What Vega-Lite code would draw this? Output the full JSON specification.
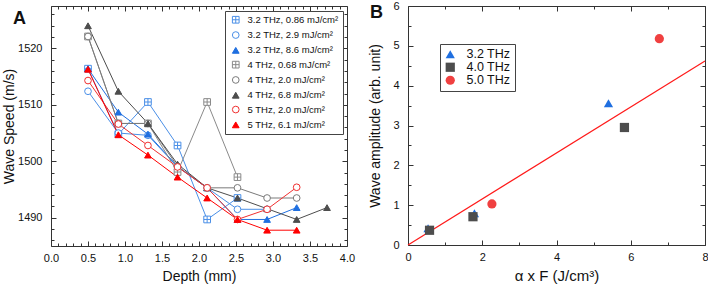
{
  "$schema": "https://vega.github.io/schema/vega-lite/v6.json",
  "padding": {"left": 2, "top": -1, "right": 0, "bottom": 0},
  "spacing": 12,
  "resolve": {
    "scale": {"color": "independent", "shape": "independent", "fill": "independent", "stroke": "independent"},
    "legend": {"color": "independent", "shape": "independent", "fill": "independent", "stroke": "independent"}
  },
  "config": {
    "font": "Liberation Sans",
    "view": {"stroke": "#333333", "strokeWidth": 1},
    "axis": {"domain": false, "grid": false, "labelFontSize": 11, "titleFontSize": 14, "titleFontWeight": "normal", "labelColor": "#111", "titleColor": "#111", "tickColor": "#333", "labelOverlap": false, "labelFlush": false}
  },
  "datasets": {
    "speed": [
      {"s": "3.2 THz, 0.86 mJ/cm²", "d": 0.5, "v": 1516.4},
      {"s": "3.2 THz, 0.86 mJ/cm²", "d": 0.91, "v": 1504.8},
      {"s": "3.2 THz, 0.86 mJ/cm²", "d": 1.31, "v": 1510.5},
      {"s": "3.2 THz, 0.86 mJ/cm²", "d": 1.71, "v": 1502.8},
      {"s": "3.2 THz, 0.86 mJ/cm²", "d": 2.11, "v": 1489.7},
      {"s": "3.2 THz, 0.86 mJ/cm²", "d": 2.52, "v": 1493.5},
      {"s": "3.2 THz, 2.9 mJ/cm²", "d": 0.5, "v": 1512.4},
      {"s": "3.2 THz, 2.9 mJ/cm²", "d": 0.91, "v": 1505.0},
      {"s": "3.2 THz, 2.9 mJ/cm²", "d": 1.31, "v": 1504.6},
      {"s": "3.2 THz, 2.9 mJ/cm²", "d": 1.71, "v": 1499.0},
      {"s": "3.2 THz, 2.9 mJ/cm²", "d": 2.11, "v": 1495.3},
      {"s": "3.2 THz, 2.9 mJ/cm²", "d": 2.52, "v": 1491.5},
      {"s": "3.2 THz, 2.9 mJ/cm²", "d": 2.92, "v": 1491.5},
      {"s": "3.2 THz, 8.6 mJ/cm²", "d": 0.5, "v": 1516.4},
      {"s": "3.2 THz, 8.6 mJ/cm²", "d": 0.91, "v": 1508.7},
      {"s": "3.2 THz, 8.6 mJ/cm²", "d": 1.31, "v": 1504.8},
      {"s": "3.2 THz, 8.6 mJ/cm²", "d": 1.71, "v": 1499.1},
      {"s": "3.2 THz, 8.6 mJ/cm²", "d": 2.11, "v": 1495.3},
      {"s": "3.2 THz, 8.6 mJ/cm²", "d": 2.52, "v": 1489.7},
      {"s": "3.2 THz, 8.6 mJ/cm²", "d": 2.92, "v": 1489.7},
      {"s": "3.2 THz, 8.6 mJ/cm²", "d": 3.32, "v": 1491.8},
      {"s": "4 THz, 0.68 mJ/cm²", "d": 0.5, "v": 1522.1},
      {"s": "4 THz, 0.68 mJ/cm²", "d": 0.91, "v": 1506.7},
      {"s": "4 THz, 0.68 mJ/cm²", "d": 1.31, "v": 1506.7},
      {"s": "4 THz, 0.68 mJ/cm²", "d": 1.71, "v": 1498.1},
      {"s": "4 THz, 0.68 mJ/cm²", "d": 2.11, "v": 1510.5},
      {"s": "4 THz, 0.68 mJ/cm²", "d": 2.52, "v": 1497.2},
      {"s": "4 THz, 2.0 mJ/cm²", "d": 0.5, "v": 1522.1},
      {"s": "4 THz, 2.0 mJ/cm²", "d": 0.91, "v": 1506.7},
      {"s": "4 THz, 2.0 mJ/cm²", "d": 1.31, "v": 1506.7},
      {"s": "4 THz, 2.0 mJ/cm²", "d": 1.71, "v": 1499.1},
      {"s": "4 THz, 2.0 mJ/cm²", "d": 2.11, "v": 1495.3},
      {"s": "4 THz, 2.0 mJ/cm²", "d": 2.52, "v": 1495.3},
      {"s": "4 THz, 2.0 mJ/cm²", "d": 2.92, "v": 1493.5},
      {"s": "4 THz, 2.0 mJ/cm²", "d": 3.32, "v": 1493.5},
      {"s": "4 THz, 6.8 mJ/cm²", "d": 0.5, "v": 1524.0},
      {"s": "4 THz, 6.8 mJ/cm²", "d": 0.91, "v": 1512.4},
      {"s": "4 THz, 6.8 mJ/cm²", "d": 1.31, "v": 1506.7},
      {"s": "4 THz, 6.8 mJ/cm²", "d": 1.71, "v": 1499.5},
      {"s": "4 THz, 6.8 mJ/cm²", "d": 2.11, "v": 1495.3},
      {"s": "4 THz, 6.8 mJ/cm²", "d": 2.52, "v": 1493.5},
      {"s": "4 THz, 6.8 mJ/cm²", "d": 2.92, "v": 1491.6},
      {"s": "4 THz, 6.8 mJ/cm²", "d": 3.32, "v": 1489.7},
      {"s": "4 THz, 6.8 mJ/cm²", "d": 3.73, "v": 1491.8},
      {"s": "5 THz, 2.0 mJ/cm²", "d": 0.5, "v": 1514.3},
      {"s": "5 THz, 2.0 mJ/cm²", "d": 0.91, "v": 1506.6},
      {"s": "5 THz, 2.0 mJ/cm²", "d": 1.31, "v": 1502.8},
      {"s": "5 THz, 2.0 mJ/cm²", "d": 1.71, "v": 1499.0},
      {"s": "5 THz, 2.0 mJ/cm²", "d": 2.11, "v": 1495.3},
      {"s": "5 THz, 2.0 mJ/cm²", "d": 2.52, "v": 1489.7},
      {"s": "5 THz, 2.0 mJ/cm²", "d": 2.92, "v": 1491.5},
      {"s": "5 THz, 2.0 mJ/cm²", "d": 3.32, "v": 1495.4},
      {"s": "5 THz, 6.1 mJ/cm²", "d": 0.5, "v": 1516.3},
      {"s": "5 THz, 6.1 mJ/cm²", "d": 0.91, "v": 1504.7},
      {"s": "5 THz, 6.1 mJ/cm²", "d": 1.31, "v": 1501.1},
      {"s": "5 THz, 6.1 mJ/cm²", "d": 1.71, "v": 1497.2},
      {"s": "5 THz, 6.1 mJ/cm²", "d": 2.11, "v": 1493.5},
      {"s": "5 THz, 6.1 mJ/cm²", "d": 2.52, "v": 1489.7},
      {"s": "5 THz, 6.1 mJ/cm²", "d": 2.92, "v": 1487.8},
      {"s": "5 THz, 6.1 mJ/cm²", "d": 3.32, "v": 1487.8}
    ],
    "amp": [
      {"f": "3.2 THz", "x": 0.54, "y": 0.42},
      {"f": "3.2 THz", "x": 1.79, "y": 0.8},
      {"f": "3.2 THz", "x": 5.4, "y": 3.56},
      {"f": "4.0 THz", "x": 0.58, "y": 0.37},
      {"f": "4.0 THz", "x": 1.75, "y": 0.71},
      {"f": "4.0 THz", "x": 5.83, "y": 2.95},
      {"f": "5.0 THz", "x": 2.26, "y": 1.03},
      {"f": "5.0 THz", "x": 6.77, "y": 5.18}
    ],
    "fit": [
      {"x": 0, "y": 0},
      {"x": 8, "y": 4.62}
    ]
  },
  "hconcat": [
    {
      "width": 296,
      "height": 240,
      "title": {"text": "A", "anchor": "start", "frame": "group", "fontSize": 18, "fontWeight": "bold", "baseline": "top", "offset": -22, "dx": -38, "color": "#111"},
      "data": {"name": "speed"},
      "layer": [
        {
          "mark": {"type": "line", "strokeWidth": 1},
          "encoding": {
            "x": {"field": "d", "type": "quantitative", "scale": {"domain": [0, 4], "nice": false},
              "axis": {"orient": "top", "title": null, "labels": false,
                "values": [0,0.1,0.2,0.3,0.4,0.5,0.6,0.7,0.8,0.9,1,1.1,1.2,1.3,1.4,1.5,1.6,1.7,1.8,1.9,2,2.1,2.2,2.3,2.4,2.5,2.6,2.7,2.8,2.9,3,3.1,3.2,3.3,3.4,3.5,3.6,3.7,3.8,3.9,4],
                "tickSize": {"condition": {"test": "abs(datum.value*2 - round(datum.value*2)) < 0.001", "value": -5}, "value": -3}}},
            "y": {"field": "v", "type": "quantitative", "scale": {"domain": [1485, 1527.5], "nice": false, "zero": false},
              "axis": {"orient": "right", "title": null, "labels": false,
                "values": [1486,1488,1490,1492,1494,1496,1498,1500,1502,1504,1506,1508,1510,1512,1514,1516,1518,1520,1522,1524,1526],
                "tickSize": {"condition": {"test": "datum.value % 10 === 0", "value": -5}, "value": -3}}},
            "stroke": {"field": "s", "type": "nominal"}
          }
        },
        {
          "mark": {"type": "point", "opacity": 1, "strokeWidth": 1, "size": 45},
          "encoding": {
            "x": {"field": "d", "type": "quantitative",
              "axis": {"orient": "bottom", "title": "Depth (mm)", "labelPadding": 11, "titlePadding": 4,
                "values": [0,0.1,0.2,0.3,0.4,0.5,0.6,0.7,0.8,0.9,1,1.1,1.2,1.3,1.4,1.5,1.6,1.7,1.8,1.9,2,2.1,2.2,2.3,2.4,2.5,2.6,2.7,2.8,2.9,3,3.1,3.2,3.3,3.4,3.5,3.6,3.7,3.8,3.9,4],
                "labelExpr": "abs(datum.value*2 - round(datum.value*2)) < 0.001 ? format(datum.value, '.1f') : ''",
                "tickSize": {"condition": {"test": "abs(datum.value*2 - round(datum.value*2)) < 0.001", "value": -5}, "value": -3}}},
            "y": {"field": "v", "type": "quantitative",
              "axis": {"orient": "left", "title": "Wave Speed (m/s)", "labelPadding": 14, "titlePadding": 1,
                "values": [1486,1488,1490,1492,1494,1496,1498,1500,1502,1504,1506,1508,1510,1512,1514,1516,1518,1520,1522,1524,1526],
                "labelExpr": "datum.value % 10 === 0 ? format(datum.value, 'd') : ''",
                "tickSize": {"condition": {"test": "datum.value % 10 === 0", "value": -5}, "value": -3}}},
            "fill": {"field": "s", "type": "nominal",
              "scale": {"domain": ["3.2 THz, 0.86 mJ/cm²","3.2 THz, 2.9 mJ/cm²","3.2 THz, 8.6 mJ/cm²","4 THz, 0.68 mJ/cm²","4 THz, 2.0 mJ/cm²","4 THz, 6.8 mJ/cm²","5 THz, 2.0 mJ/cm²","5 THz, 6.1 mJ/cm²"],
                "range": ["#ffffff","#ffffff","#1f6fe0","#ffffff","#ffffff","#4d4d4d","#ffffff","#ff0000"]},
              "legend": {"title": null, "orient": "none", "legendX": 174, "legendY": 5, "labelFontSize": 9.5, "labelColor": "#111", "symbolSize": 45, "symbolStrokeWidth": 1, "rowPadding": 3.3, "padding": 4, "strokeColor": "#444", "fillColor": "white", "labelLimit": 200, "symbolOffset": 2, "labelOffset": 7}},
            "stroke": {"field": "s", "type": "nominal",
              "scale": {"domain": ["3.2 THz, 0.86 mJ/cm²","3.2 THz, 2.9 mJ/cm²","3.2 THz, 8.6 mJ/cm²","4 THz, 0.68 mJ/cm²","4 THz, 2.0 mJ/cm²","4 THz, 6.8 mJ/cm²","5 THz, 2.0 mJ/cm²","5 THz, 6.1 mJ/cm²"],
                "range": ["#4a8fe7","#4a8fe7","#1f6fe0","#8a8a8a","#7a7a7a","#4d4d4d","#f03030","#ff0000"]},
              "legend": {"title": null}},
            "shape": {"field": "s", "type": "nominal",
              "scale": {"domain": ["3.2 THz, 0.86 mJ/cm²","3.2 THz, 2.9 mJ/cm²","3.2 THz, 8.6 mJ/cm²","4 THz, 0.68 mJ/cm²","4 THz, 2.0 mJ/cm²","4 THz, 6.8 mJ/cm²","5 THz, 2.0 mJ/cm²","5 THz, 6.1 mJ/cm²"],
                "range": ["M-1,-1H1V1H-1ZM0,-1V1M-1,0H1","circle","triangle-up","M-1,-1H1V1H-1ZM0,-1V1M-1,0H1","circle","triangle-up","circle","triangle-up"]},
              "legend": {"title": null}}
          }
        }
      ],
      "resolve": {"axis": {"x": "independent", "y": "independent"}}
    },
    {
      "width": 297,
      "height": 239,
      "title": {"text": "B", "anchor": "start", "frame": "group", "fontSize": 18, "fontWeight": "bold", "baseline": "top", "offset": -22, "dx": -38, "color": "#111"},
      "layer": [
        {
          "data": {"name": "fit"},
          "mark": {"type": "line", "color": "#ff1a1a", "strokeWidth": 1.2},
          "encoding": {
            "x": {"field": "x", "type": "quantitative", "scale": {"domain": [0, 8], "nice": false},
              "axis": {"orient": "top", "title": null, "labels": false, "values": [0,1,2,3,4,5,6,7,8],
                "tickSize": {"condition": {"test": "datum.value % 2 === 0", "value": -5}, "value": -3}}},
            "y": {"field": "y", "type": "quantitative", "scale": {"domain": [0, 6], "nice": false},
              "axis": {"orient": "right", "title": null, "labels": false, "values": [0,0.5,1,1.5,2,2.5,3,3.5,4,4.5,5,5.5,6],
                "tickSize": {"condition": {"test": "datum.value % 1 === 0", "value": -5}, "value": -3}}}
          }
        },
        {
          "data": {"name": "amp"},
          "mark": {"type": "point", "filled": true, "opacity": 1, "size": 85},
          "encoding": {
            "x": {"field": "x", "type": "quantitative",
              "axis": {"orient": "bottom", "title": "α x F (J/cm³)", "titleFontSize": 15, "labelPadding": 11, "titlePadding": 4, "values": [0,1,2,3,4,5,6,7,8],
                "labelExpr": "datum.value % 2 === 0 ? format(datum.value, 'd') : ''",
                "tickSize": {"condition": {"test": "datum.value % 2 === 0", "value": -5}, "value": -3}}},
            "y": {"field": "y", "type": "quantitative",
              "axis": {"orient": "left", "title": "Wave amplitude (arb. unit)", "labelPadding": 14, "titlePadding": 10, "values": [0,0.5,1,1.5,2,2.5,3,3.5,4,4.5,5,5.5,6],
                "labelExpr": "datum.value % 1 === 0 ? format(datum.value, 'd') : ''",
                "tickSize": {"condition": {"test": "datum.value % 1 === 0", "value": -5}, "value": -3}}},
            "color": {"field": "f", "type": "nominal",
              "scale": {"domain": ["3.2 THz", "4.0 THz", "5.0 THz"], "range": ["#1f6fe0", "#4d4d4d", "#f04040"]},
              "legend": {"title": null, "orient": "none", "legendX": 32, "legendY": 38, "labelFontSize": 12.5, "labelColor": "#111", "symbolSize": 85, "rowPadding": 0, "padding": 4, "strokeColor": "#444", "fillColor": "white", "labelOffset": 10}},
            "shape": {"field": "f", "type": "nominal",
              "scale": {"domain": ["3.2 THz", "4.0 THz", "5.0 THz"], "range": ["triangle-up", "square", "circle"]},
              "legend": {"title": null}}
          }
        }
      ],
      "resolve": {"axis": {"x": "independent", "y": "independent"}}
    }
  ]
}
